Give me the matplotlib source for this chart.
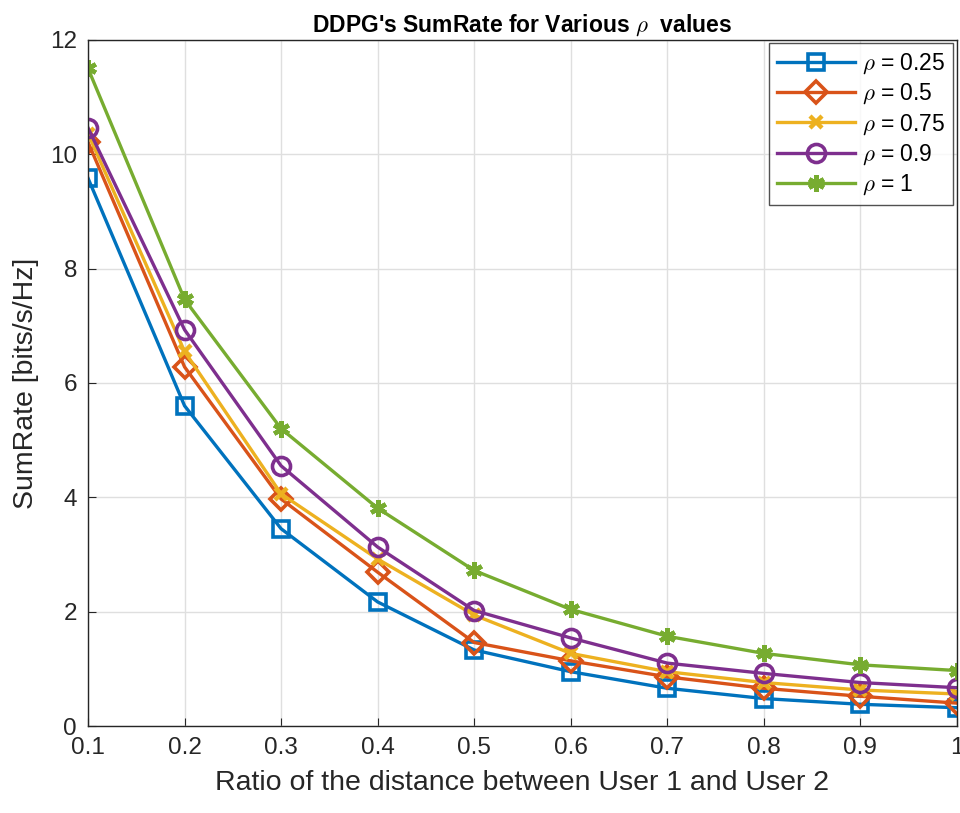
import numpy as np
import matplotlib.pyplot as plt

plt.rcParams['font.family'] = ['Liberation Sans', 'DejaVu Sans']
plt.rcParams['mathtext.fontset'] = 'cm'

# distance ratio between the two users
ratio = [0.1, 0.2, 0.3, 0.4, 0.5, 0.6, 0.7, 0.8, 0.9, 1.0]

# sum rate [bits/s/Hz] for each rho
rate_025 = [9.58, 5.60, 3.45, 2.17, 1.33, 0.95, 0.66, 0.48, 0.38, 0.32]
rate_05 = [10.21, 6.28, 3.97, 2.69, 1.46, 1.14, 0.86, 0.66, 0.52, 0.40]
rate_075 = [10.36, 6.55, 4.06, 2.92, 1.94, 1.27, 0.95, 0.76, 0.63, 0.56]
rate_09 = [10.46, 6.93, 4.55, 3.13, 2.02, 1.54, 1.10, 0.92, 0.76, 0.67]
rate_1 = [11.50, 7.46, 5.20, 3.81, 2.72, 2.04, 1.57, 1.27, 1.07, 0.97]

labels = [r'$\rho$ = 0.25', r'$\rho$ = 0.5', r'$\rho$ = 0.75', r'$\rho$ = 0.9', r'$\rho$ = 1']
series = [rate_025, rate_05, rate_075, rate_09, rate_1]
colors = ['#0072BD', '#D95319', '#EDB120', '#7E2F8E', '#77AC30']
markers = ['s', 'D', 'x', 'o', (6, 2, 0)]
msizes = [11, 11, 9, 13, 12]
mews = [2.6, 2.6, 3.2, 2.6, 3.2]

fig = plt.figure(figsize=(9.6, 8.13), dpi=100)
ax = fig.add_axes([0.0917, 0.107, 0.905, 0.844])

for y, lab, c, m, ms, mew in zip(series, labels, colors, markers, msizes, mews):
    ax.plot(ratio, y, color=c, marker=m, markersize=ms, linewidth=2.4,
            markerfacecolor='none' if m in ('s', 'D', 'o') else c,
            markeredgewidth=mew, label=lab)

ax.set_xlim(0.1, 1)
ax.set_ylim(0, 12)
ax.set_xticks(np.arange(0.1, 1.01, 0.1))
ax.set_xticklabels(['0.1', '0.2', '0.3', '0.4', '0.5', '0.6', '0.7', '0.8', '0.9', '1'])
ax.set_yticks(range(0, 13, 2))
ax.grid(True, color='#dfdfdf', linewidth=1)
ax.set_axisbelow(True)
ax.tick_params(direction='in', length=6, labelsize=17.5, colors='#262626', pad=8,
               top=False, right=False)
for s in ax.spines.values():
    s.set_color('#262626')
    s.set_linewidth(1)

ax.set_xlabel('Ratio of the distance between User 1 and User 2', fontsize=20.5, color='#262626', labelpad=8)
ax.set_ylabel('SumRate [bits/s/Hz]', fontsize=20.5, color='#262626', labelpad=8)
ax.set_title(r"DDPG's SumRate for Various $\rho$  values", fontsize=16.5, fontweight='bold', pad=6)

leg = ax.legend(loc='upper right', fontsize=16.5, frameon=True, fancybox=False,
                edgecolor='#262626', handlelength=3.4, borderaxespad=0.15,
                labelspacing=0.25, handletextpad=0.3, borderpad=0.35)
leg.get_frame().set_linewidth(1)

fig.savefig('out.png', dpi=100)
